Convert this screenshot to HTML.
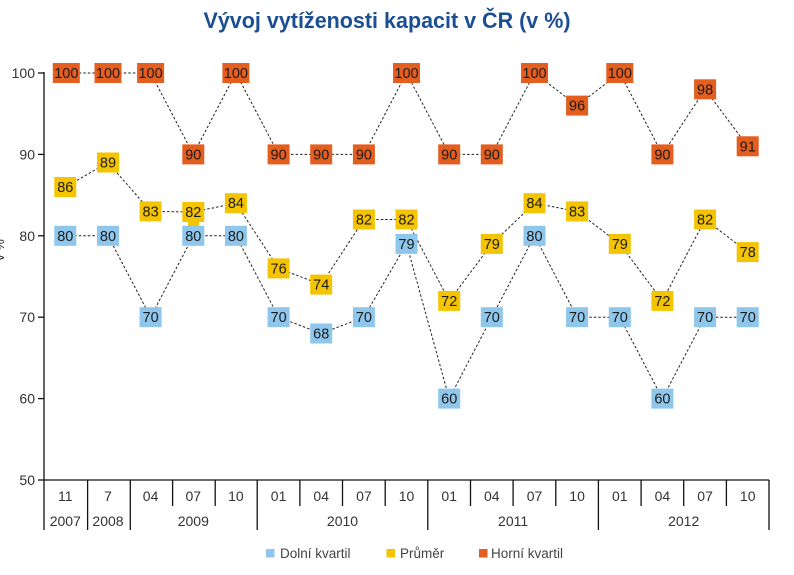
<!DOCTYPE html>
<html><head><meta charset="utf-8"><style>
html,body{margin:0;padding:0;background:#fff;}
svg{display:block;}
text{font-family:"Liberation Sans",Arial,sans-serif;}
.ax{font-size:14px;fill:#333;}
.b{font-size:14.5px;fill:#1c1c1c;text-anchor:middle;}
.lg{font-size:13.5px;fill:#444;}
.ln{fill:none;stroke:#222;stroke-width:1;stroke-dasharray:2.5 2;}
.o{fill:#E35E1F;}
.y{fill:#F5C400;}
.c{fill:#8EC6EC;}
</style></head><body>
<svg width="794" height="575" viewBox="0 0 794 575" xmlns="http://www.w3.org/2000/svg">
<text x="387" y="28" text-anchor="middle" font-size="22" font-weight="bold" fill="#1B4F93" textLength="367" lengthAdjust="spacingAndGlyphs">Vývoj vytíženosti kapacit v ČR (v %)</text>

<text transform="translate(4,250) rotate(-90)" font-size="13" fill="#333" text-anchor="middle">v %</text>

<!-- axes -->
<g stroke="#111" stroke-width="1.3" fill="none">
<line x1="44" y1="72" x2="44" y2="530"/>
<line x1="44" y1="480" x2="769" y2="480"/>
<line x1="38" y1="73" x2="44" y2="73"/>
<line x1="38" y1="154.4" x2="44" y2="154.4"/>
<line x1="38" y1="235.8" x2="44" y2="235.8"/>
<line x1="38" y1="317.2" x2="44" y2="317.2"/>
<line x1="38" y1="398.6" x2="44" y2="398.6"/>
<line x1="38" y1="480" x2="44" y2="480"/>
<line x1="87.6" y1="480" x2="87.6" y2="530"/>
<line x1="130.3" y1="480" x2="130.3" y2="530"/>
<line x1="257.2" y1="480" x2="257.2" y2="530"/>
<line x1="427.8" y1="480" x2="427.8" y2="530"/>
<line x1="598.4" y1="480" x2="598.4" y2="530"/>
<line x1="769" y1="480" x2="769" y2="530"/>
<line x1="172.6" y1="480" x2="172.6" y2="506"/>
<line x1="215.2" y1="480" x2="215.2" y2="506"/>
<line x1="299.9" y1="480" x2="299.9" y2="506"/>
<line x1="342.5" y1="480" x2="342.5" y2="506"/>
<line x1="385.2" y1="480" x2="385.2" y2="506"/>
<line x1="470.5" y1="480" x2="470.5" y2="506"/>
<line x1="513.1" y1="480" x2="513.1" y2="506"/>
<line x1="555.8" y1="480" x2="555.8" y2="506"/>
<line x1="641.1" y1="480" x2="641.1" y2="506"/>
<line x1="683.7" y1="480" x2="683.7" y2="506"/>
<line x1="726.4" y1="480" x2="726.4" y2="506"/>
</g>

<g class="ax" text-anchor="end">
<text x="35" y="78">100</text>
<text x="35" y="159.4">90</text>
<text x="35" y="240.8">80</text>
<text x="35" y="322.2">70</text>
<text x="35" y="403.6">60</text>
<text x="35" y="485">50</text>
</g>

<g class="ax" text-anchor="middle">
<text x="65.3" y="501">11</text>
<text x="108" y="501">7</text>
<text x="150.6" y="501">04</text>
<text x="193.3" y="501">07</text>
<text x="235.9" y="501">10</text>
<text x="278.6" y="501">01</text>
<text x="321.2" y="501">04</text>
<text x="363.9" y="501">07</text>
<text x="406.5" y="501">10</text>
<text x="449.2" y="501">01</text>
<text x="491.8" y="501">04</text>
<text x="534.5" y="501">07</text>
<text x="577.1" y="501">10</text>
<text x="619.8" y="501">01</text>
<text x="662.4" y="501">04</text>
<text x="705.1" y="501">07</text>
<text x="747.7" y="501">10</text>
<text x="65.3" y="526">2007</text>
<text x="108" y="526">2008</text>
<text x="193.3" y="526">2009</text>
<text x="342.5" y="526">2010</text>
<text x="513.1" y="526">2011</text>
<text x="683.7" y="526">2012</text>
</g>

<polyline class="ln" points="65.3,73 108,73 150.6,73 193.3,154.4 235.9,73 278.6,154.4 321.2,154.4 363.9,154.4 406.5,73 449.2,154.4 491.8,154.4 534.5,73 577.1,105.6 619.8,73 662.4,154.4 705.1,89.3 747.7,146.3"/>
<polyline class="ln" points="65.3,187 108,162.5 150.6,211.4 193.3,212 235.9,203.2 278.6,268.4 321.2,284.6 363.9,219.5 406.5,219.5 449.2,300.9 491.8,243.9 534.5,203.2 577.1,211.4 619.8,243.9 662.4,300.9 705.1,219.5 747.7,252.1"/>
<polyline class="ln" points="65.3,235.8 108,235.8 150.6,317.2 193.3,235.8 235.9,235.8 278.6,317.2 321.2,333.5 363.9,317.2 406.5,243.9 449.2,398.6 491.8,317.2 534.5,235.8 577.1,317.2 619.8,317.2 662.4,398.6 705.1,317.2 747.7,317.2"/>

<g>
<rect class="o" x="52.8" y="63" width="27" height="20"/><text class="b" x="66.3" y="78">100</text>
<rect class="o" x="94.5" y="63" width="27" height="20"/><text class="b" x="108" y="78">100</text>
<rect class="o" x="137.1" y="63" width="27" height="20"/><text class="b" x="150.6" y="78">100</text>
<rect class="o" x="182.3" y="144.4" width="22" height="20"/><text class="b" x="193.3" y="159.4">90</text>
<rect class="o" x="222.4" y="63" width="27" height="20"/><text class="b" x="235.9" y="78">100</text>
<rect class="o" x="267.6" y="144.4" width="22" height="20"/><text class="b" x="278.6" y="159.4">90</text>
<rect class="o" x="310.2" y="144.4" width="22" height="20"/><text class="b" x="321.2" y="159.4">90</text>
<rect class="o" x="352.9" y="144.4" width="22" height="20"/><text class="b" x="363.9" y="159.4">90</text>
<rect class="o" x="393" y="63" width="27" height="20"/><text class="b" x="406.5" y="78">100</text>
<rect class="o" x="438.2" y="144.4" width="22" height="20"/><text class="b" x="449.2" y="159.4">90</text>
<rect class="o" x="480.8" y="144.4" width="22" height="20"/><text class="b" x="491.8" y="159.4">90</text>
<rect class="o" x="521" y="63" width="27" height="20"/><text class="b" x="534.5" y="78">100</text>
<rect class="o" x="566.1" y="95.6" width="22" height="20"/><text class="b" x="577.1" y="110.6">96</text>
<rect class="o" x="606.3" y="63" width="27" height="20"/><text class="b" x="619.8" y="78">100</text>
<rect class="o" x="651.4" y="144.4" width="22" height="20"/><text class="b" x="662.4" y="159.4">90</text>
<rect class="o" x="694.1" y="79.3" width="22" height="20"/><text class="b" x="705.1" y="94.3">98</text>
<rect class="o" x="736.7" y="136.3" width="22" height="20"/><text class="b" x="747.7" y="151.3">91</text>
</g>

<g>
<rect class="y" x="54.3" y="177" width="22" height="20"/><text class="b" x="65.3" y="192">86</text>
<rect class="y" x="97" y="152.5" width="22" height="20"/><text class="b" x="108" y="167.5">89</text>
<rect class="y" x="139.6" y="201.4" width="22" height="20"/><text class="b" x="150.6" y="216.4">83</text>
<rect class="y" x="188" y="220" width="11" height="8"/>
<rect class="y" x="182.3" y="202" width="22" height="20"/><text class="b" x="193.3" y="217">82</text>
<rect class="y" x="224.9" y="193.2" width="22" height="20"/><text class="b" x="235.9" y="208.2">84</text>
<rect class="y" x="267.6" y="258.4" width="22" height="20"/><text class="b" x="278.6" y="273.4">76</text>
<rect class="y" x="310.2" y="274.6" width="22" height="20"/><text class="b" x="321.2" y="289.6">74</text>
<rect class="y" x="352.9" y="209.5" width="22" height="20"/><text class="b" x="363.9" y="224.5">82</text>
<rect class="y" x="395.5" y="209.5" width="22" height="20"/><text class="b" x="406.5" y="224.5">82</text>
<rect class="y" x="438.2" y="290.9" width="22" height="20"/><text class="b" x="449.2" y="305.9">72</text>
<rect class="y" x="480.8" y="233.9" width="22" height="20"/><text class="b" x="491.8" y="248.9">79</text>
<rect class="y" x="523.5" y="193.2" width="22" height="20"/><text class="b" x="534.5" y="208.2">84</text>
<rect class="y" x="566.1" y="201.4" width="22" height="20"/><text class="b" x="577.1" y="216.4">83</text>
<rect class="y" x="608.8" y="233.9" width="22" height="20"/><text class="b" x="619.8" y="248.9">79</text>
<rect class="y" x="651.4" y="290.9" width="22" height="20"/><text class="b" x="662.4" y="305.9">72</text>
<rect class="y" x="694.1" y="209.5" width="22" height="20"/><text class="b" x="705.1" y="224.5">82</text>
<rect class="y" x="736.7" y="242.1" width="22" height="20"/><text class="b" x="747.7" y="257.1">78</text>
</g>

<g>
<rect class="c" x="54.3" y="225.8" width="22" height="20"/><text class="b" x="65.3" y="240.8">80</text>
<rect class="c" x="97" y="225.8" width="22" height="20"/><text class="b" x="108" y="240.8">80</text>
<rect class="c" x="139.6" y="307.2" width="22" height="20"/><text class="b" x="150.6" y="322.2">70</text>
<rect class="c" x="182.3" y="225.8" width="22" height="20"/><text class="b" x="193.3" y="240.8">80</text>
<rect class="c" x="224.9" y="225.8" width="22" height="20"/><text class="b" x="235.9" y="240.8">80</text>
<rect class="c" x="267.6" y="307.2" width="22" height="20"/><text class="b" x="278.6" y="322.2">70</text>
<rect class="c" x="310.2" y="323.5" width="22" height="20"/><text class="b" x="321.2" y="338.5">68</text>
<rect class="c" x="352.9" y="307.2" width="22" height="20"/><text class="b" x="363.9" y="322.2">70</text>
<rect class="c" x="395.5" y="233.9" width="22" height="20"/><text class="b" x="406.5" y="248.9">79</text>
<rect class="c" x="438.2" y="388.6" width="22" height="20"/><text class="b" x="449.2" y="403.6">60</text>
<rect class="c" x="480.8" y="307.2" width="22" height="20"/><text class="b" x="491.8" y="322.2">70</text>
<rect class="c" x="523.5" y="225.8" width="22" height="20"/><text class="b" x="534.5" y="240.8">80</text>
<rect class="c" x="566.1" y="307.2" width="22" height="20"/><text class="b" x="577.1" y="322.2">70</text>
<rect class="c" x="608.8" y="307.2" width="22" height="20"/><text class="b" x="619.8" y="322.2">70</text>
<rect class="c" x="651.4" y="388.6" width="22" height="20"/><text class="b" x="662.4" y="403.6">60</text>
<rect class="c" x="694.1" y="307.2" width="22" height="20"/><text class="b" x="705.1" y="322.2">70</text>
<rect class="c" x="736.7" y="307.2" width="22" height="20"/><text class="b" x="747.7" y="322.2">70</text>
</g>

<rect class="c" x="266" y="549" width="8.5" height="8.5"/>
<text class="lg" x="280" y="558">Dolní kvartil</text>
<rect class="y" x="386.5" y="549" width="8.5" height="8.5"/>
<text class="lg" x="400" y="558">Průměr</text>
<rect class="o" x="479" y="549" width="8.5" height="8.5"/>
<text class="lg" x="491" y="558">Horní kvartil</text>
</svg>
</body></html>
